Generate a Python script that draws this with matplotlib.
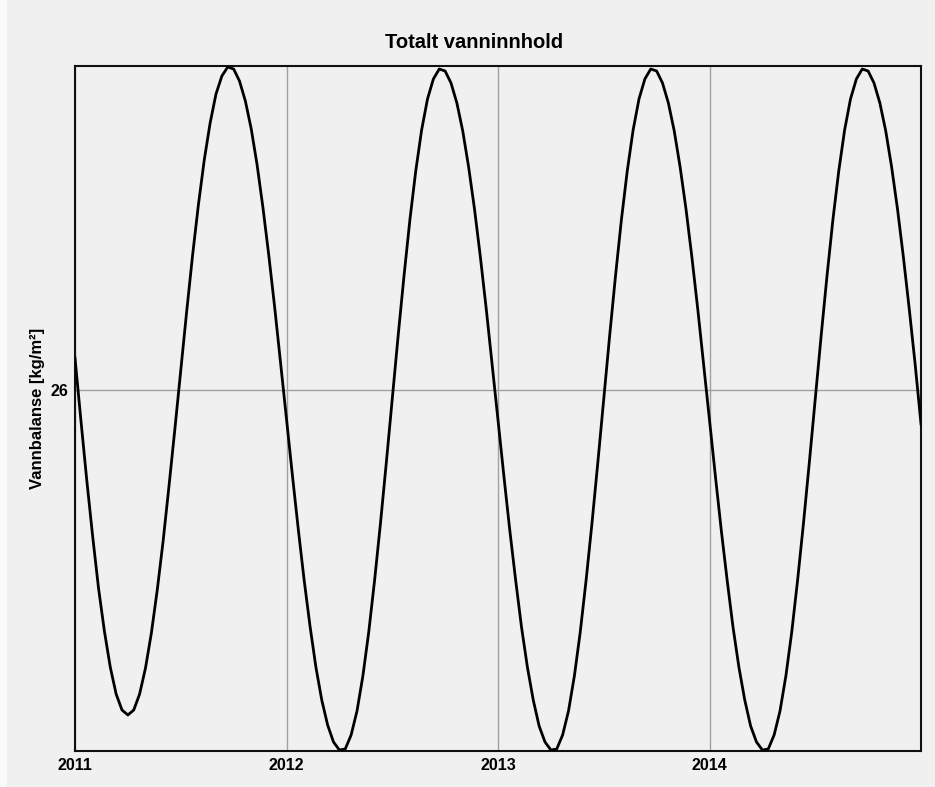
"""
Totalt vanninnhold - vannbalanse over fire aar
"""

import numpy as np
import matplotlib.pyplot as plt
from matplotlib.patches import Rectangle

# samples per year (about every 10 days)
per_year = 36

vann_2011 = [26.32, 25.70, 25.10, 24.54, 24.02, 23.59, 23.23, 22.96, 22.80,
             22.75, 22.80, 22.96, 23.22, 23.57, 24.00, 24.49, 25.04, 25.61,
             26.20, 26.78, 27.34, 27.85, 28.30, 28.67, 28.96, 29.14, 29.23,
             29.21, 29.09, 28.89, 28.61, 28.25, 27.82, 27.34, 26.82, 26.27]
vann_2012 = [25.71, 25.15, 24.61, 24.10, 23.64, 23.23, 22.90, 22.65, 22.48,
             22.40, 22.41, 22.55, 22.79, 23.14, 23.58, 24.10, 24.67, 25.28,
             25.91, 26.54, 27.14, 27.70, 28.19, 28.60, 28.91, 29.11, 29.21,
             29.19, 29.07, 28.87, 28.59, 28.23, 27.81, 27.33, 26.81, 26.26]
vann_2013 = [25.70, 25.14, 24.60, 24.10, 23.63, 23.23, 22.90, 22.64, 22.48,
             22.40, 22.41, 22.55, 22.79, 23.14, 23.58, 24.10, 24.67, 25.28,
             25.91, 26.54, 27.14, 27.70, 28.19, 28.60, 28.91, 29.11, 29.21,
             29.19, 29.07, 28.87, 28.59, 28.23, 27.81, 27.33, 26.81, 26.26]
vann_2014 = [25.70, 25.14, 24.60, 24.10, 23.63, 23.23, 22.90, 22.64, 22.48,
             22.40, 22.41, 22.55, 22.79, 23.14, 23.58, 24.10, 24.67, 25.28,
             25.91, 26.54, 27.14, 27.70, 28.19, 28.60, 28.91, 29.11, 29.21,
             29.19, 29.07, 28.87, 28.59, 28.23, 27.81, 27.33, 26.81, 26.26]
vann_end = [25.66]

years = [2011, 2012, 2013, 2014]
year_labels = ['2011', '2012', '2013', '2014']
y_ticks = [26]
y_tick_labels = ['26']

vann = np.array(vann_2011 + vann_2012 + vann_2013 + vann_2014 + vann_end)
t = 2011 + np.arange(len(vann)) / per_year

# figure
plt.rc('font', family=['Liberation Sans', 'DejaVu Sans'])
bg = '#f0f0f0'
W, H = 935, 787
fig = plt.figure(figsize=(W / 100, H / 100), dpi=100, facecolor=bg)
fig.patches.append(Rectangle((0, 0), 7 / W, 1, transform=fig.transFigure,
                             facecolor='#fafafa', edgecolor='none', zorder=0))

ax = fig.add_axes([75 / W, (H - 751) / H, (921 - 75) / W, (751 - 66) / H])
ax.set_facecolor(bg)

ax.plot(t, vann, color='k', lw=2.0, solid_joinstyle='round', zorder=3)

ax.set_xlim(2011, 2015)
ax.set_ylim(22.39, 29.24)
ax.set_xticks(years)
ax.set_xticklabels(year_labels, fontsize=11.5, fontweight='bold')
ax.set_yticks(y_ticks)
ax.set_yticklabels(y_tick_labels, fontsize=11.5, fontweight='bold')
ax.tick_params(length=0, pad=5)
ax.grid(True, color='#a0a0a0', lw=1.0)
ax.set_axisbelow(True)

for s in ax.spines.values():
    s.set_color('#101010')
    s.set_linewidth(1.5)

ax.set_ylabel('Vannbalanse [kg/m²]', fontsize=12, fontweight='bold',
              labelpad=4)
fig.text(474 / W, 1 - 43 / H, 'Totalt vanninnhold', fontsize=14.5,
         fontweight='bold', ha='center', va='center')

plt.savefig('out.png', dpi=100, facecolor=bg)
